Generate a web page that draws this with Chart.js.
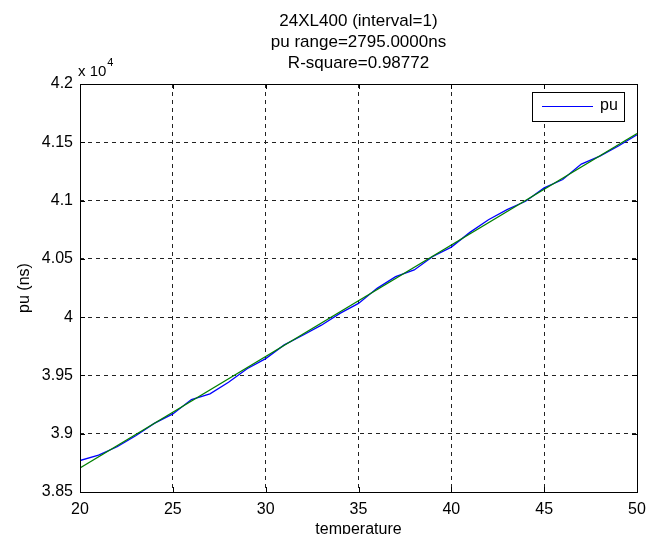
<!DOCTYPE html>
<html>
<head>
<meta charset="utf-8">
<script src="https://cdn.jsdelivr.net/npm/chart.js"></script>
<style>
html,body{margin:0;padding:0;background:#fff;}
</style>
</head>
<body>
<canvas id="puChart" width="661" height="534"></canvas>
<script>
// values
let temperature=[20,21,22,23,24,25,26,27,28,29,30,31,32,33,34,35,36,37,38,39,40,41,42,43,44,45,46,47,48,49,50]
let pu=[38770,38816,38888,38983,39089,39170,39293,39342,39442,39557,39644,39762,39845,39931,40032,40118,40247,40347,40405,40520,40601,40727,40836,40922,40994,41109,41181,41313,41382,41468,41565]
// linear fit (green line), end points
let fitX=[20,50]
let fitY=[38707,41575]
let xTicks=[20,25,30,35,40,45,50]
let yTicks=[38500,39000,39500,40000,40500,41000,41500,42000]
let titleLines=['24XL400 (interval=1)','pu range=2795.0000ns','R-square=0.98772']

const FONT='"Liberation Sans", Arial, Helvetica, sans-serif'

// box round the axes, inward ticks, x10^4 label and legend
const matlabBox={
  id:'matlabBox',
  afterDraw(chart){
    const c=chart.ctx, a=chart.chartArea
    const xs=chart.scales.x, ys=chart.scales.y
    c.save()
    c.strokeStyle='#000'
    c.lineWidth=1
    c.setLineDash([])
    c.strokeRect(a.left+0.5,a.top+0.5,a.right-a.left,a.bottom-a.top)
    let tl=5
    c.beginPath()
    xTicks.forEach(v=>{
      let px=Math.round(xs.getPixelForValue(v))+0.5
      c.moveTo(px,a.bottom);c.lineTo(px,a.bottom-tl)
      c.moveTo(px,a.top);c.lineTo(px,a.top+tl)
    })
    yTicks.forEach(v=>{
      let py=Math.round(ys.getPixelForValue(v))+0.5
      c.moveTo(a.left,py);c.lineTo(a.left+tl,py)
      c.moveTo(a.right,py);c.lineTo(a.right-tl,py)
    })
    c.stroke()

    // exponent label
    c.fillStyle='#000'
    c.textBaseline='alphabetic'
    c.textAlign='left'
    c.font='15px '+FONT
    c.fillText('x 10',a.left-2,a.top-8)
    let w=c.measureText('x 10').width
    c.font='11px '+FONT
    c.fillText('4',a.left-2+w+1,a.top-18)

    // legend
    let ds=chart.data.datasets[0]
    let lx=532,ly=92,lw=92,lh=29
    c.fillStyle='#fff'
    c.fillRect(lx,ly,lw,lh)
    c.strokeRect(lx+0.5,ly+0.5,lw,lh)
    c.strokeStyle=ds.borderColor
    c.lineWidth=1.2
    c.beginPath()
    c.moveTo(lx+10,ly+14.5);c.lineTo(lx+61,ly+14.5)
    c.stroke()
    c.fillStyle='#000'
    c.font='16px '+FONT
    c.textBaseline='middle'
    c.fillText(ds.label,lx+68,ly+14)
    c.restore()
  }
}

let ctx=document.getElementById('puChart').getContext('2d')
let chart=new Chart(ctx,{
  type:'line',
  data:{
    datasets:[{
      label:'pu',
      data:temperature.map((t,i)=>({x:t,y:pu[i]})),
      borderColor:'#0000ff',
      borderWidth:1.3,
      pointRadius:0,
      tension:0,
      fill:false,
      order:1
    },{
      label:'fit',
      data:fitX.map((t,i)=>({x:t,y:fitY[i]})),
      borderColor:'#008000',
      borderWidth:1.2,
      pointRadius:0,
      fill:false,
      order:0
    }]
  },
  options:{
    responsive:false,
    animation:false,
    layout:{padding:{top:0,right:24,bottom:0,left:0}},
    plugins:{
      legend:{display:false},
      tooltip:{enabled:false},
      title:{
        display:true,
        fullSize:false,
        text:titleLines,
        color:'#000',
        font:{family:FONT,size:17,weight:'normal',lineHeight:'21px'},
        padding:{top:11,bottom:10}
      }
    },
    scales:{
      x:{
        type:'linear',
        min:20,max:50,
        afterBuildTicks:s=>{s.ticks=xTicks.map(v=>({value:v}))},
        afterFit:s=>{s.height=42},
        grid:{color:'#222',lineWidth:1,drawTicks:false},
        border:{display:false,dash:[4,4]},
        ticks:{color:'#000',padding:8,maxRotation:0,font:{family:FONT,size:16}},
        title:{display:true,text:'temperature',color:'#000',font:{family:FONT,size:16,lineHeight:1},padding:{top:0,bottom:-4}}
      },
      y:{
        type:'linear',
        min:38500,max:42000,
        afterBuildTicks:s=>{s.ticks=yTicks.map(v=>({value:v}))},
        afterFit:s=>{s.width=80},
        grid:{color:'#222',lineWidth:1,drawTicks:false},
        border:{display:false,dash:[4,4]},
        ticks:{color:'#000',padding:7,font:{family:FONT,size:16},callback:v=>String(+(v/1e4).toFixed(2))},
        title:{display:true,text:'pu (ns)',color:'#000',font:{family:FONT,size:16,lineHeight:1},padding:{top:17,bottom:0}}
      }
    }
  },
  plugins:[matlabBox]
})
</script>
</body>
</html>
